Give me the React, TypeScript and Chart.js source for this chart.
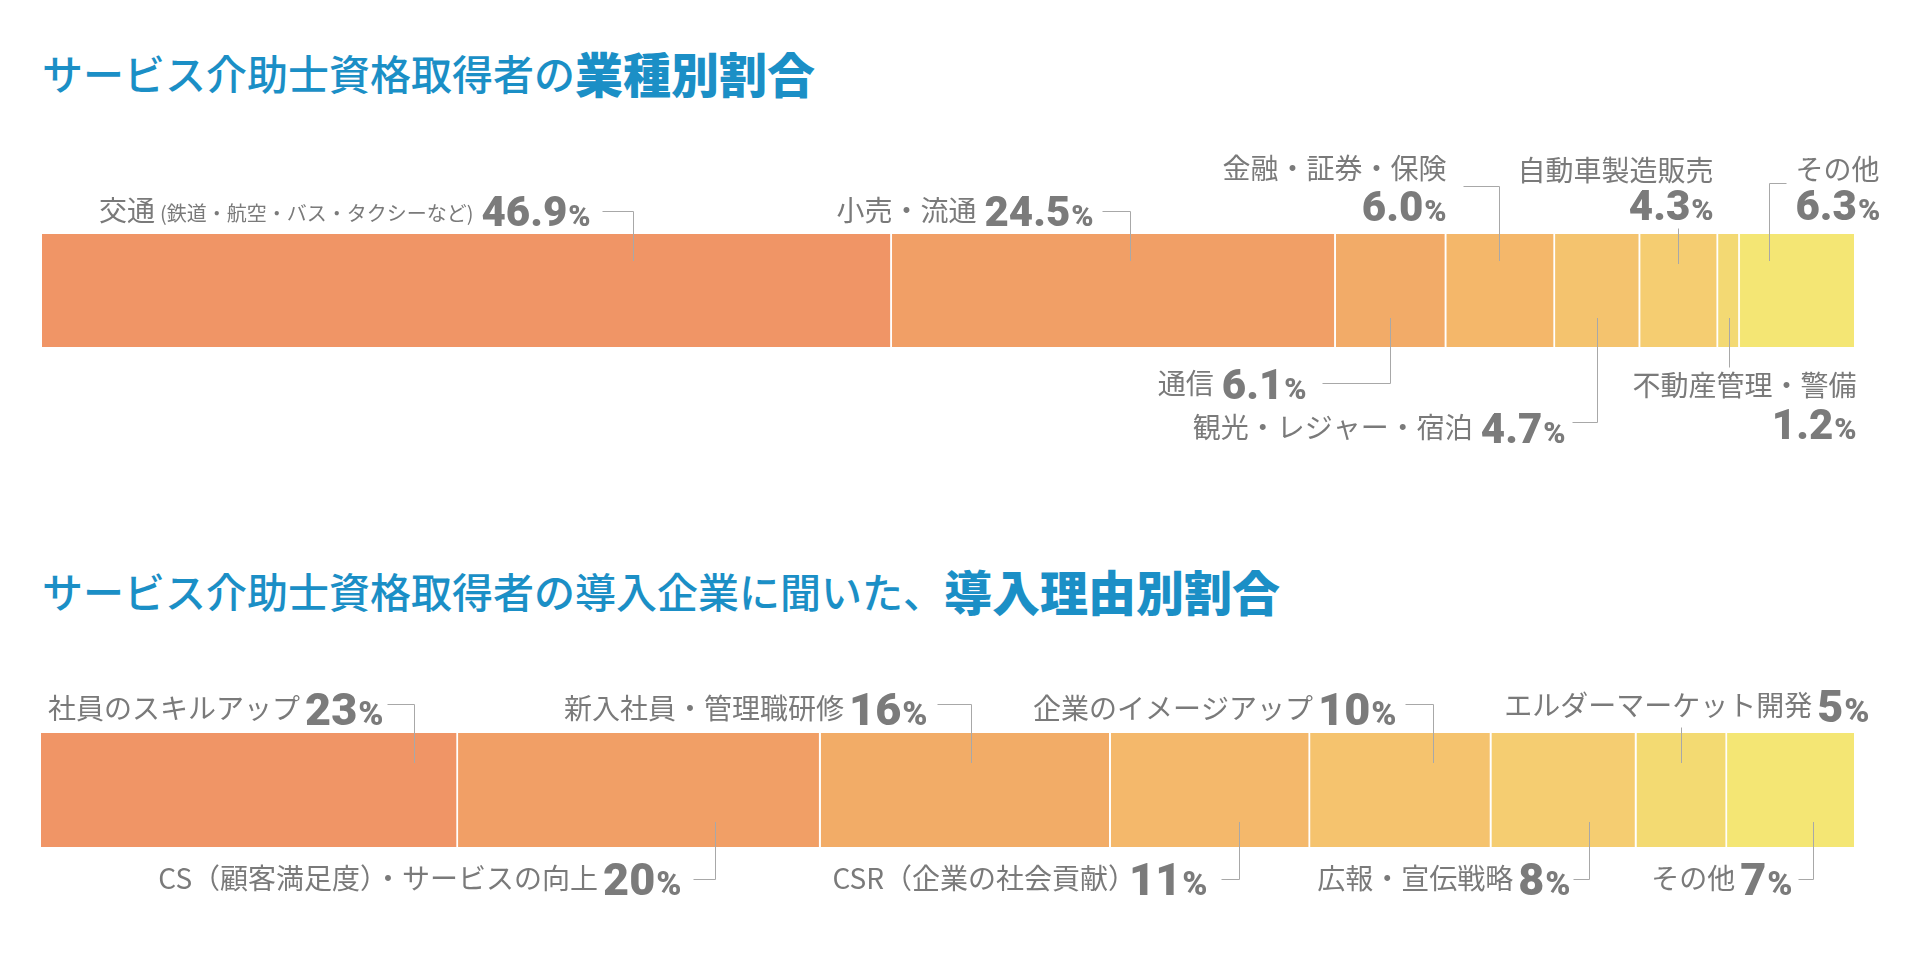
import React, { useEffect, useRef } from "react";
import { Chart, registerables } from "chart.js";

Chart.register(...registerables);

// ---------- data ----------
const title1Normal = "サービス介助士資格取得者の";
const title1Bold = "業種別割合";
const title2Normal = "サービス介助士資格取得者の導入企業に聞いた、";
const title2Bold = "導入理由別割合";

const industryCategories = [
  "交通(鉄道・航空・バス・タクシーなど)",
  "小売・流通",
  "通信",
  "金融・証券・保険",
  "観光・レジャー・宿泊",
  "自動車製造販売",
  "不動産管理・警備",
  "その他",
];
const industryValues = [46.9, 24.5, 6.1, 6.0, 4.7, 4.3, 1.2, 6.3];

const reasonCategories = [
  "社員のスキルアップ",
  "CS（顧客満足度）・サービスの向上",
  "新入社員・管理職研修",
  "CSR（企業の社会貢献）",
  "企業のイメージアップ",
  "広報・宣伝戦略",
  "エルダーマーケット開発",
  "その他",
];
const reasonValues = [23, 20, 16, 11, 10, 8, 5, 7];

// ---------- styles ----------
const industryColors = ["#F09566", "#F19F66", "#F2AB68", "#F4B76A", "#F4C36E", "#F5CD71", "#F3D973", "#F4E674"];
const reasonColors = ["#F09566", "#F19F66", "#F2AC67", "#F4B86B", "#F5C36E", "#F5CD71", "#F3DA72", "#F4E674"];
const TITLE_COLOR = "#1b8fc6";
const TEXT_COLOR = "#7a7a7a";
const NUM_COLOR = "#7b7b7b";
const LINE_COLOR = "#a8a8a8";
const JP_FAMILY = '"Noto Sans CJK JP", "Noto Sans", sans-serif';
const NUM_FAMILY = 'Roboto, "Liberation Sans", sans-serif';

type LabelLayout = {
  frac: number;
  stacked: boolean;
  align: "left" | "right";
  dx: number;
  nameY: number;
  valueY: number;
  lineY: number;
  stub: number;
  inY: number;
};

// page coordinates (y) for label layout
const industryLayouts: LabelLayout[] = [
  { frac: 0.695, stacked: false, align: "right", dx: -43, nameY: 211, valueY: 211, lineY: 211, stub: -31, inY: 261 },
  { frac: 0.536, stacked: false, align: "right", dx: -37, nameY: 211, valueY: 211, lineY: 211, stub: -28, inY: 261 },
  { frac: 0.495, stacked: false, align: "right", dx: -84, nameY: 384, valueY: 384, lineY: 383, stub: -68, inY: 318 },
  { frac: 0.488, stacked: true, align: "right", dx: -53, nameY: 169, valueY: 206, lineY: 186, stub: -36, inY: 261 },
  { frac: 0.493, stacked: false, align: "right", dx: -32, nameY: 428, valueY: 428, lineY: 422, stub: -25, inY: 318 },
  { frac: 0.488, stacked: true, align: "right", dx: 35, nameY: 171, valueY: 205, lineY: 228, stub: 0, inY: 264 },
  { frac: 0.51, stacked: true, align: "right", dx: 127, nameY: 386, valueY: 424, lineY: 367, stub: 0, inY: 318 },
  { frac: 0.256, stacked: true, align: "left", dx: 26, nameY: 170, valueY: 205, lineY: 183, stub: 17, inY: 261 },
];

const reasonLayouts: LabelLayout[] = [
  { frac: 0.894, stacked: false, align: "right", dx: -31, nameY: 709, valueY: 709, lineY: 704, stub: -27, inY: 763 },
  { frac: 0.709, stacked: false, align: "right", dx: -34, nameY: 879, valueY: 879, lineY: 879, stub: -22, inY: 822 },
  { frac: 0.518, stacked: false, align: "right", dx: -44, nameY: 709, valueY: 709, lineY: 704, stub: -34, inY: 763 },
  { frac: 0.643, stacked: false, align: "right", dx: -32, nameY: 879, valueY: 879, lineY: 879, stub: -18, inY: 822 },
  { frac: 0.677, stacked: false, align: "right", dx: -37, nameY: 709, valueY: 709, lineY: 704, stub: -28, inY: 763 },
  { frac: 0.672, stacked: false, align: "right", dx: -19, nameY: 879, valueY: 879, lineY: 879, stub: -16, inY: 822 },
  { frac: 0.497, stacked: false, align: "right", dx: 188, nameY: 706, valueY: 706, lineY: 727, stub: 0, inY: 763 },
  { frac: 0.675, stacked: false, align: "right", dx: -21, nameY: 879, valueY: 879, lineY: 879, stub: -15, inY: 822 },
];

type Part = { text: string; size: number; family: string; weight: string; color: string; gap: number; baseSize: number };

type PanelCfg = {
  categories: string[];
  values: number[];
  colors: string[];
  layouts: LabelLayout[];
  decimals: number;
  offsetY: number;
  padding: { left: number; right: number; top: number; bottom: number };
  jpSize: number;
  numSize: number;
  pctSize: number;
  nameGap: number;
};

function splitName(name: string, jpSize: number): Part[] {
  const idx = name.indexOf("(");
  if (idx > 0) {
    return [
      { text: name.slice(0, idx), size: jpSize, family: JP_FAMILY, weight: "400", color: TEXT_COLOR, gap: 0, baseSize: jpSize },
      { text: name.slice(idx), size: 20, family: JP_FAMILY, weight: "400", color: TEXT_COLOR, gap: 5, baseSize: jpSize },
    ];
  }
  return [{ text: name, size: jpSize, family: JP_FAMILY, weight: "400", color: TEXT_COLOR, gap: 0, baseSize: jpSize }];
}

function drawRow(ctx: CanvasRenderingContext2D, parts: Part[], anchorX: number, align: "left" | "right", cy: number) {
  const widths = parts.map((p) => {
    ctx.font = `${p.weight} ${p.size}px ${p.family}`;
    return ctx.measureText(p.text).width;
  });
  const total = widths.reduce((a, w, i) => a + w + (i > 0 ? parts[i].gap : 0), 0);
  let x = align === "right" ? anchorX - total : anchorX;
  parts.forEach((p, i) => {
    if (i > 0) x += p.gap;
    ctx.font = `${p.weight} ${p.size}px ${p.family}`;
    ctx.fillStyle = p.color;
    const isJp = p.family === JP_FAMILY;
    const off = isJp ? 0.37 * p.baseSize : 0.355 * p.baseSize;
    ctx.fillText(p.text, x, cy + off);
    x += widths[i];
  });
}

function makeLabelPlugin(cfg: PanelCfg) {
  return {
    id: "segmentLabels",
    afterDatasetsDraw(chart: any) {
      const ctx: CanvasRenderingContext2D = chart.ctx;
      const xs = chart.scales.x;
      const oy = cfg.offsetY;
      let cum = 0;
      ctx.save();
      ctx.textAlign = "left";
      ctx.textBaseline = "alphabetic";
      cfg.values.forEach((v, i) => {
        const x0 = xs.getPixelForValue(cum);
        cum += v;
        const x1 = xs.getPixelForValue(cum);
        const L = cfg.layouts[i];
        const px = Math.round(x0 + L.frac * (x1 - x0)) + 0.5;
        // leader line
        ctx.strokeStyle = LINE_COLOR;
        ctx.lineWidth = 1;
        ctx.beginPath();
        const ly = Math.round(L.lineY - oy) + 0.5;
        if (L.stub !== 0) {
          ctx.moveTo(px + L.stub, ly);
          ctx.lineTo(px, ly);
        } else {
          ctx.moveTo(px, ly);
        }
        ctx.lineTo(px, L.inY - oy);
        ctx.stroke();
        // text
        const name = cfg.categories[i];
        const nameParts = splitName(name, cfg.jpSize);
        // full-width closing bracket carries its own right-side space
        const tightGap = name.endsWith("）") ? cfg.nameGap - Math.round(cfg.jpSize * 0.42) : cfg.nameGap;
        const numPart: Part = {
          text: v.toFixed(cfg.decimals),
          size: cfg.numSize,
          family: NUM_FAMILY,
          weight: "900",
          color: NUM_COLOR,
          gap: tightGap,
          baseSize: cfg.numSize,
        };
        const pctPart: Part = {
          text: "%",
          size: cfg.pctSize,
          family: NUM_FAMILY,
          weight: "900",
          color: NUM_COLOR,
          gap: 1,
          baseSize: cfg.numSize,
        };
        const ax = px + L.dx;
        if (L.stacked) {
          drawRow(ctx, nameParts, ax, L.align, L.nameY - oy);
          drawRow(ctx, [{ ...numPart, gap: 0 }, pctPart], ax, L.align, L.valueY - oy);
        } else {
          drawRow(ctx, [...nameParts, numPart, pctPart], ax, L.align, L.nameY - oy);
        }
      });
      ctx.restore();
    },
  };
}

function StackedPanel({ cfg, top }: { cfg: PanelCfg; top: number }) {
  const ref = useRef<HTMLCanvasElement | null>(null);
  useEffect(() => {
    if (!ref.current) return;
    const n = cfg.values.length;
    const chart = new Chart(ref.current, {
      type: "bar",
      data: {
        labels: [""],
        datasets: cfg.values.map((v, i) => ({
          label: cfg.categories[i],
          data: [v],
          backgroundColor: cfg.colors[i],
          borderColor: "rgba(255,255,255,0.85)",
          borderWidth: i < n - 1 ? { top: 0, bottom: 0, left: 0, right: 2 } : 0,
          borderSkipped: false,
          barPercentage: 1,
          categoryPercentage: 1,
        })),
      },
      options: {
        indexAxis: "y",
        responsive: false,
        maintainAspectRatio: false,
        animation: false,
        events: [],
        layout: { padding: cfg.padding },
        scales: {
          x: { stacked: true, min: 0, max: 100, display: false },
          y: { stacked: true, display: false },
        },
        plugins: { legend: { display: false }, tooltip: { enabled: false } },
      },
      plugins: [makeLabelPlugin(cfg)],
    } as any);
    return () => chart.destroy();
  }, [cfg]);
  return (
    <canvas
      ref={ref}
      width={1920}
      height={480}
      style={{ position: "absolute", left: 0, top, width: 1920, height: 480 }}
    />
  );
}

const industryCfg: PanelCfg = {
  categories: industryCategories,
  values: industryValues,
  colors: industryColors,
  layouts: industryLayouts,
  decimals: 1,
  offsetY: 0,
  padding: { left: 42, right: 66, top: 234, bottom: 133 },
  jpSize: 28,
  numSize: 42,
  pctSize: 30,
  nameGap: 8,
};

const reasonCfg: PanelCfg = {
  categories: reasonCategories,
  values: reasonValues,
  colors: reasonColors,
  layouts: reasonLayouts,
  decimals: 0,
  offsetY: 480,
  padding: { left: 41, right: 66, top: 253, bottom: 113 },
  jpSize: 28,
  numSize: 45,
  pctSize: 34,
  nameGap: 5,
};

function Title({ normal, bold, cy }: { normal: string; bold: string; cy: number }) {
  return (
    <div
      style={{
        position: "absolute",
        left: 42,
        top: cy - 30,
        height: 60,
        display: "flex",
        alignItems: "center",
        color: TITLE_COLOR,
        fontFamily: JP_FAMILY,
        whiteSpace: "nowrap",
      }}
    >
      <span style={{ fontSize: 41, fontWeight: 500, lineHeight: 1 }}>{normal}</span>
      <span style={{ fontSize: 48, fontWeight: 900, lineHeight: 1 }}>{bold}</span>
    </div>
  );
}

export default function App() {
  return (
    <div
      style={{
        position: "fixed",
        left: 0,
        top: 0,
        width: 1920,
        height: 960,
        background: "#ffffff",
        overflow: "hidden",
      }}
    >
      <Title normal={title1Normal} bold={title1Bold} cy={72} />
      <Title normal={title2Normal} bold={title2Bold} cy={590} />
      <StackedPanel cfg={industryCfg} top={0} />
      <StackedPanel cfg={reasonCfg} top={480} />
    </div>
  );
}
